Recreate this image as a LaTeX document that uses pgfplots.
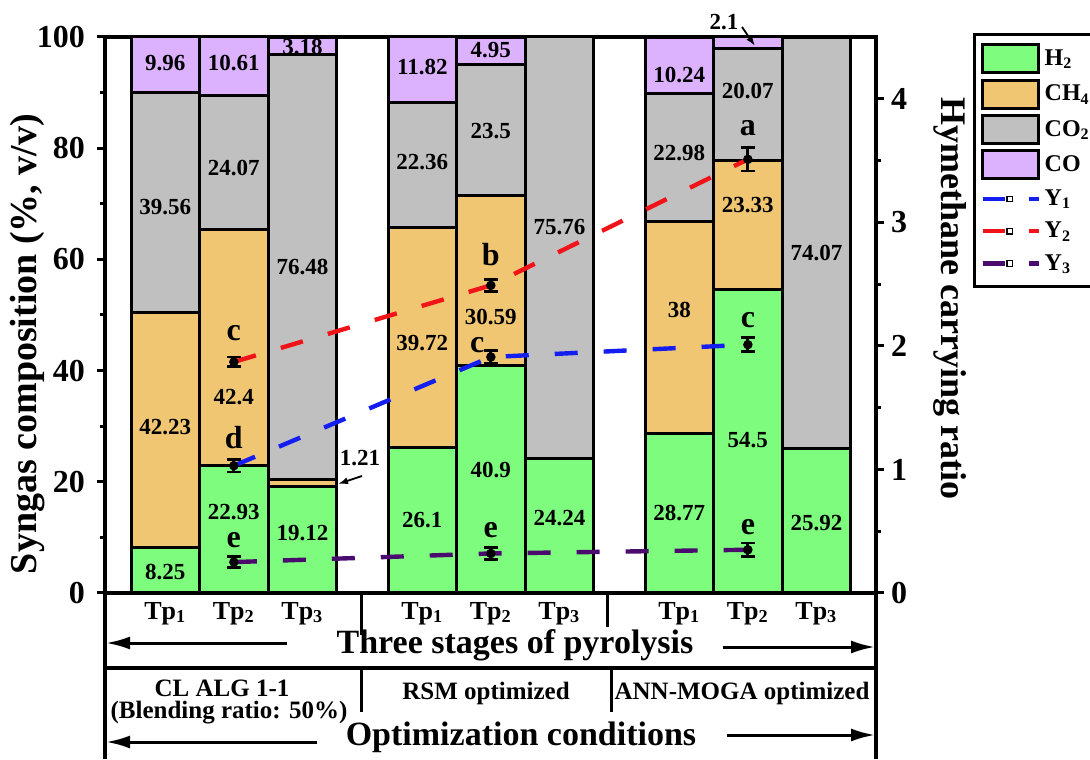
\documentclass[border=0pt]{standalone}
\usepackage{fontspec}
\setmainfont{Liberation Serif}
\usepackage{pgfplots}
\pgfplotsset{compat=1.18}
\usepackage{pgfplotstable}
\usetikzlibrary{arrows.meta}
\newcommand\fs[1]{\fontsize{#1}{#1}\selectfont\bfseries}
\tikzset{vl/.style={font=\fs{11.5}}, lt/.style={font=\fs{16}}}
\definecolor{cH}{RGB}{125,252,125}
\definecolor{cCH}{RGB}{240,198,115}
\definecolor{cCOt}{RGB}{192,192,192}
\definecolor{cCO}{RGB}{220,178,255}
\definecolor{cYa}{RGB}{20,30,240}
\definecolor{cYb}{RGB}{240,20,25}
\definecolor{cYc}{RGB}{75,10,110}
\pgfplotstableread{
x H CH COt CO
0 8.25 42.23 39.56 9.96
1 22.93 42.4 24.07 10.61
2 19.12 1.21 76.48 3.18
3.75 26.1 39.72 22.36 11.82
4.75 40.9 30.59 23.5 4.95
5.75 24.24 0 75.76 0
7.5 28.77 38 22.98 10.24
8.5 54.5 23.33 20.07 2.1
9.5 25.92 0 74.07 0
}\comptab
\pgfplotstableread{
x Ya ea Yb eb Yc ec
1 1.03 0.05 1.87 0.04 0.25 0.045
4.75 1.91 0.05 2.49 0.05 0.32 0.05
8.5 2.01 0.055 3.51 0.095 0.35 0.055
}\ratiotab
\pgfplotsset{common/.style={scale only axis, width=385.5pt, height=278pt, xmin=-0.88, xmax=10.37}}
\begin{document}
\begin{tikzpicture}
\path[use as bounding box] (-52.5pt,-83pt) rectangle (492.5pt,296.5pt);
\begin{axis}[
  common, ymin=0, ymax=100,
  ybar stacked, bar width=1,
  clip=false,
  axis line style={line width=1.8pt},
  ytick={0,20,40,60,80,100}, minor y tick num=1, ytick pos=left,
  tick align=outside, major tick length=4pt, minor tick length=2.5pt,
  every tick/.style={black, line width=1.5pt},
  xtick={0,1,2,3.75,4.75,5.75,7.5,8.5,9.5},
  xticklabels={Tp\textsubscript{1},Tp\textsubscript{2},Tp\textsubscript{3},Tp\textsubscript{1},Tp\textsubscript{2},Tp\textsubscript{3},Tp\textsubscript{1},Tp\textsubscript{2},Tp\textsubscript{3}},
  xtick style={draw=none},
  yticklabel style={font=\fs{16}, xshift=-2.5pt},
  xticklabel style={font=\fs{13}, yshift=3pt},
  /pgf/number format/assume math mode=true,
  ylabel={Syngas composition (\%, v/v)},
  ylabel style={font=\fs{19}, at={(axis description cs:-0.0999,0.448)}, anchor=center},
]
\addplot[fill=cH, draw=black, line width=1.5pt] table[x=x,y=H]{\comptab};
\addplot[fill=cCH, draw=black, line width=1.5pt] table[x=x,y=CH]{\comptab};
\addplot[fill=cCOt, draw=black, line width=1.5pt] table[x=x,y=COt]{\comptab};
\addplot[fill=cCO, draw=black, line width=1.5pt] table[x=x,y=CO]{\comptab};
\end{axis}
\begin{axis}[
  common, ymin=0, ymax=4.5,
  axis x line=none, axis y line*=right,
  axis line style={line width=1.8pt},
  ytick={0,1,2,3,4}, minor y tick num=1,
  tick align=outside, major tick length=4pt, minor tick length=2.5pt,
  every tick/.style={black, line width=1.5pt},
  yticklabel style={font=\fs{16}},
  /pgf/number format/assume math mode=true,
  ylabel={Hymethane carrying ratio},
  ylabel style={font=\fs{18}, rotate=180, at={(axis description cs:1.096,0.53)}, anchor=center},
  legend style={at={(1.1258,1.0072)}, anchor=north west, draw=black, line width=1.3pt,
    font=\fs{12}, inner xsep=3pt, inner ysep=4.5pt, row sep=2.2pt, cells={anchor=west}},
  legend cell align=left,
]
\addplot[forget plot, cYc, line width=2.2pt, dash pattern=on 11.5pt off 13pt, mark=*, mark size=1.2pt,
  mark options={solid, black, fill=black},
  error bars/.cd, y dir=both, y explicit,
  error bar style={black, line width=1.4pt, solid},
  error mark options={rotate=90, black, mark size=3.5pt, line width=1.4pt, solid}]
  table[x=x, y=Yc, y error=ec]{\ratiotab};
\addplot[forget plot, cYa, line width=2.2pt, dash pattern=on 11.5pt off 13pt, mark=*, mark size=1.2pt,
  mark options={solid, black, fill=black},
  error bars/.cd, y dir=both, y explicit,
  error bar style={black, line width=1.4pt, solid},
  error mark options={rotate=90, black, mark size=3.5pt, line width=1.4pt, solid}]
  table[x=x, y=Ya, y error=ea]{\ratiotab};
\addplot[forget plot, cYb, line width=2.2pt, dash pattern=on 11.5pt off 13pt, mark=*, mark size=1.2pt,
  mark options={solid, black, fill=black},
  error bars/.cd, y dir=both, y explicit,
  error bar style={black, line width=1.4pt, solid},
  error mark options={rotate=90, black, mark size=3.5pt, line width=1.4pt, solid}]
  table[x=x, y=Yb, y error=eb]{\ratiotab};
\addlegendimage{legend image code/.code={\draw[fill=cH, line width=1.5pt] (0pt,-7pt) rectangle (28pt,7pt);}}
\addlegendentry{H\textsubscript{2}\hspace*{10pt}}
\addlegendimage{legend image code/.code={\draw[fill=cCH, line width=1.5pt] (0pt,-7pt) rectangle (28pt,7pt);}}
\addlegendentry{CH\textsubscript{4}}
\addlegendimage{legend image code/.code={\draw[fill=cCOt, line width=1.5pt] (0pt,-7pt) rectangle (28pt,7pt);}}
\addlegendentry{CO\textsubscript{2}}
\addlegendimage{legend image code/.code={\draw[fill=cCO, line width=1.5pt] (0pt,-7pt) rectangle (28pt,7pt);}}
\addlegendentry{CO}
\addlegendimage{legend image code/.code={
  \path[draw=none, fill=none] (0pt,-7pt) rectangle (28pt,7pt);
  \draw[cYa, line width=2.2pt] (0pt,0pt) -- (11pt,0pt);
  \draw[black, line width=0.6pt, fill=white] (12.2pt,-1.4pt) rectangle (15pt,1.4pt);
  \draw[cYa, line width=2.2pt] (23pt,0pt) -- (28pt,0pt);}}
\addlegendentry{Y\textsubscript{1}}
\addlegendimage{legend image code/.code={
  \path[draw=none, fill=none] (0pt,-7pt) rectangle (28pt,7pt);
  \draw[cYb, line width=2.2pt] (0pt,0pt) -- (11pt,0pt);
  \draw[black, line width=0.6pt, fill=white] (12.2pt,-1.4pt) rectangle (15pt,1.4pt);
  \draw[cYb, line width=2.2pt] (23pt,0pt) -- (28pt,0pt);}}
\addlegendentry{Y\textsubscript{2}}
\addlegendimage{legend image code/.code={
  \path[draw=none, fill=none] (0pt,-7pt) rectangle (28pt,7pt);
  \draw[cYc, line width=2.2pt] (0pt,0pt) -- (11pt,0pt);
  \draw[black, line width=0.6pt, fill=white] (12.2pt,-1.4pt) rectangle (15pt,1.4pt);
  \draw[cYc, line width=2.2pt] (23pt,0pt) -- (28pt,0pt);}}
\addlegendentry{Y\textsubscript{3}}
\end{axis}
\begin{axis}[common, ymin=0, ymax=100, hide axis, clip=false]
\node[vl] at (axis cs:0,95.3) {9.96};
\node[vl] at (axis cs:0,69.4) {39.56};
\node[vl] at (axis cs:0,29.9) {42.23};
\node[vl] at (axis cs:0,3.8) {8.25};
\node[vl] at (axis cs:1,95.3) {10.61};
\node[vl] at (axis cs:1,76.4) {24.07};
\node[vl] at (axis cs:1,35.3) {42.4};
\node[vl] at (axis cs:1,14.6) {22.93};
\node[vl] at (axis cs:2,98.2) {3.18};
\node[vl] at (axis cs:2,58.6) {76.48};
\node[vl] at (axis cs:2,10.8) {19.12};
\node[vl] at (axis cs:3.75,94.6) {11.82};
\node[vl] at (axis cs:3.75,77.5) {22.36};
\node[vl] at (axis cs:3.75,45.0) {39.72};
\node[vl] at (axis cs:3.75,13.1) {26.1};
\node[vl] at (axis cs:4.75,97.7) {4.95};
\node[vl] at (axis cs:4.75,83.0) {23.5};
\node[vl] at (axis cs:4.75,49.6) {30.59};
\node[vl] at (axis cs:4.75,22.1) {40.9};
\node[vl] at (axis cs:5.75,65.8) {75.76};
\node[vl] at (axis cs:5.75,13.5) {24.24};
\node[vl] at (axis cs:7.5,93.2) {10.24};
\node[vl] at (axis cs:7.5,79.1) {22.98};
\node[vl] at (axis cs:7.5,50.9) {38};
\node[vl] at (axis cs:7.5,14.4) {28.77};
\node[vl] at (axis cs:8.5,90.3) {20.07};
\node[vl] at (axis cs:8.5,69.8) {23.33};
\node[vl] at (axis cs:8.5,27.5) {54.5};
\node[vl] at (axis cs:9.5,61.2) {74.07};
\node[vl] at (axis cs:9.5,12.6) {25.92};
\node[lt] at (axis cs:1,46.8) {c};
\node[lt] at (axis cs:1,27.9) {d};
\node[lt] at (axis cs:1,9.5) {e};
\node[lt] at (axis cs:4.75,60.8) {b};
\node[lt] at (axis cs:4.55,44.6) {c};
\node[lt] at (axis cs:4.75,11.3) {e};
\node[lt] at (axis cs:8.5,83.6) {a};
\node[lt] at (axis cs:8.5,49.1) {c};
\node[lt] at (axis cs:8.5,11.9) {e};
\end{axis}
\begin{scope}[shift={(-52.5pt,296.5pt)}, x=0.5pt, y=-0.5pt]
\draw[line width=1.8pt] (105,593) -- (105,759);
\draw[line width=1.8pt] (876,593) -- (876,759);
\draw[line width=1.5pt] (361,593) -- (361,635);
\draw[line width=1.5pt] (607,593) -- (607,627);
\draw[line width=1.8pt] (105,668) -- (876,668);
\draw[line width=1.5pt] (361,668) -- (361,712);
\draw[line width=1.5pt] (611,668) -- (611,712);
\draw[line width=1.5pt, -{Latex[length=12pt,width=6.5pt]}] (287,643) -- (106,643);
\draw[line width=1.5pt, -{Latex[length=12pt,width=6.5pt]}] (723,647) -- (875,647);
\draw[line width=1.5pt, -{Latex[length=12pt,width=6.5pt]}] (317,742) -- (106,742);
\draw[line width=1.5pt, -{Latex[length=12pt,width=6.5pt]}] (727,735) -- (875,735);
\node[font=\fs{17}] at (515,645) {Three stages of pyrolysis};
\node[font=\fs{17}] at (521,737) {Optimization conditions};
\node[font=\fs{12.5}] at (222,688) {CL ALG 1-1};
\node[font=\fs{12.5}] at (229,713) {(Blending ratio: 50\%)};
\node[font=\fs{12.5}] at (486,693) {RSM optimized};
\node[font=\fs{12.5}] at (742,693) {ANN-MOGA optimized};
\node[font=\fs{11.5}] at (360,458) {1.21};
\draw[line width=0.9pt, -{Latex[length=5pt,width=3.5pt]}] (362,476) -- (338,484);
\node[font=\fs{11.5}] at (724,22) {2.1};
\draw[line width=0.9pt, -{Latex[length=5pt,width=3.5pt]}] (742,27) -- (755,46);
\end{scope}
\end{tikzpicture}
\end{document}
